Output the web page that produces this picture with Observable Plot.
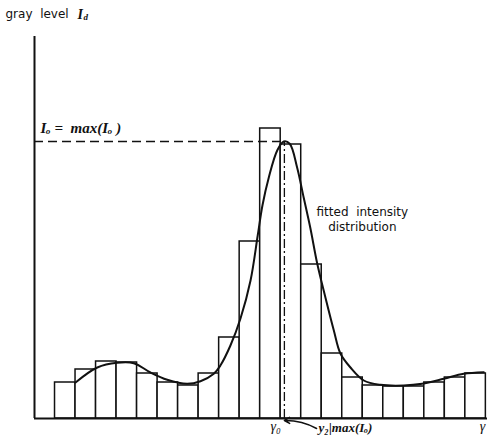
<!DOCTYPE html>
<html>
<head>
<meta charset="utf-8">
<script src="https://cdn.jsdelivr.net/npm/d3@7"></script>
<script src="https://cdn.jsdelivr.net/npm/@observablehq/plot@0.6"></script>
<style>
  html, body { margin: 0; padding: 0; background: #fff; }
</style>
</head>
<body>
<div id="chart"></div>
<script>
// Histogram bins (index) and gray-level counts
const binStart = [1,2,3,4,5,6,7,8,9,10,11,12,13,14,15,16,17,18,19,20,21];
const binCount = [36,49,57,56,45,36,33,45,81,177,290,274,154,65,41,33,32,32,36,41,45];

// Fitted intensity distribution (x in bin units, y gray level)
const fitX = [2.0,3.06,4.03,4.84,5.65,6.47,7.44,8.09,8.74,9.06,9.55,10.04,10.53,10.88,11.11,11.42,11.83,12.15,12.44,12.80,13.12,13.45,13.78,14.18,14.59,14.91,15.40,16.05,16.86,18.0,18.89,19.95,20.92,21.9];
const fitY = [36,51,55.7,55.3,46,38.7,34.7,37.3,44.7,53,73,100,138,183,213,241,268,277,274.7,251,221,190,155,121,88,65,51,38,33.7,33,34.7,39.7,44.7,46.3];

// Peak of the fit
const peakX = 12.18;
const peakY = 277;

// Axis limits
const xMax = 22.08;
const yMax = 382;

const bins = binStart.map((b, i) => ({x1: b, x2: b + 1, y: binCount[i]}));
const fit = fitX.map((x, i) => ({x, y: fitY[i]}));

const serif = "'Liberation Serif', 'DejaVu Serif', serif";
const sans = "'DejaVu Sans', Lato, sans-serif";

const chart = Plot.plot({
  width: 487,
  height: 435,
  marginLeft: 34,
  marginRight: 0,
  marginTop: 36,
  marginBottom: 17,
  x: {domain: [0, xMax], axis: null},
  y: {domain: [0, yMax], axis: null},
  style: {background: "#fff", overflow: "visible"},
  marks: [
    Plot.rectY(bins, {x1: "x1", x2: "x2", y: "y", fill: "#fff", stroke: "#111", strokeWidth: 1.5}),
    Plot.ruleY([peakY], {x1: 0, x2: peakX, stroke: "#111", strokeWidth: 1.5, strokeDasharray: "9,5"}),
    Plot.ruleX([peakX], {y1: 0, y2: peakY, stroke: "#111", strokeWidth: 1.3, strokeDasharray: "9,3,2,3"}),
    Plot.line(fit, {x: "x", y: "y", curve: "catmull-rom", stroke: "#111", strokeWidth: 2}),
    Plot.ruleX([0], {y1: 0, y2: yMax, stroke: "#111", strokeWidth: 2}),
    Plot.ruleY([0], {x1: 0, x2: xMax, stroke: "#111", strokeWidth: 2}),
    // axis title
    Plot.text(["gray  level"], {x: 0, y: yMax, dx: -29, dy: -22, textAnchor: "start", fontFamily: sans, fontSize: 12, fill: "#111"}),
    Plot.text(["I"], {x: 0, y: yMax, dx: 43, dy: -22, textAnchor: "start", fontFamily: serif, fontStyle: "italic", fontWeight: "bold", fontSize: 14, fill: "#111"}),
    Plot.text(["d"], {x: 0, y: yMax, dx: 49, dy: -19, textAnchor: "start", fontFamily: serif, fontStyle: "italic", fontWeight: "bold", fontSize: 9, fill: "#111"}),
    // max label
    Plot.text(["Iₒ =  max(Iₒ )"], {x: 0, y: peakY, dx: 6, dy: -13, textAnchor: "start", fontFamily: serif, fontStyle: "italic", fontWeight: "bold", fontSize: 15, fill: "#111"}),
    // fit label
    Plot.text(["fitted  intensity\ndistribution"], {x: 15.98, y: 200, textAnchor: "middle", fontFamily: sans, fontSize: 12, lineHeight: 1.3, fill: "#111"}),
    // x labels
    Plot.text(["γ₀"], {x: 11.75, y: 0, dy: 8, textAnchor: "middle", fontFamily: serif, fontStyle: "italic", fontSize: 14, fill: "#111"}),
    Plot.text(["γ"], {x: xMax, y: 0, dx: -5, dy: 8, textAnchor: "middle", fontFamily: serif, fontStyle: "italic", fontSize: 14, fill: "#111"}),
    Plot.arrow([{x1: 13.75, y1: -10, x2: peakX, y2: -2}], {x1: "x1", y1: "y1", x2: "x2", y2: "y2", bend: -15, stroke: "#111", strokeWidth: 1.5, headLength: 6}),
    Plot.text(["y₂|max(Iₒ)"], {x: 13.75, y: 0, dx: 2, dy: 9, textAnchor: "start", fontFamily: serif, fontStyle: "italic", fontWeight: "bold", fontSize: 13, fill: "#111"})
  ]
});
document.getElementById("chart").appendChild(chart);
</script>
</body>
</html>
